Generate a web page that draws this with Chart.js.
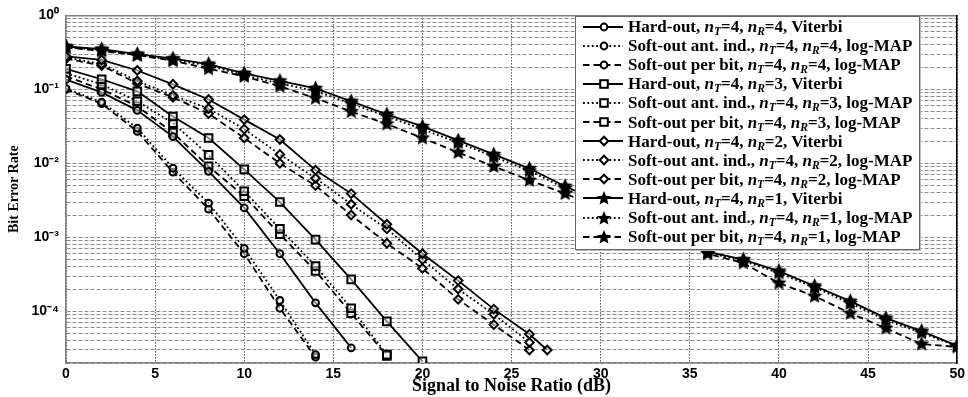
<!DOCTYPE html>
<html>
<head>
<meta charset="utf-8">
<script src="https://cdn.jsdelivr.net/npm/chart.js@4.4.1/dist/chart.umd.min.js"></script>
<style>
  body { margin: 0; background: #fff; }
  #wrap { position: relative; width: 968px; height: 397px; }
  #legend {
    position: absolute; left: 575px; top: 16px; width: 343px; height: 232px;
    background: #fff; border: 1px solid #666; box-shadow: 1px 1px 0 #bbb;
    font: bold 17px "Liberation Serif", serif; color: #000;
  }
  .row { position: absolute; left: 0; height: 19px; display: flex; align-items: center; white-space: nowrap; }
  .row svg { margin-left: 7px; margin-right: 5px; flex: none; }
  .row sub { font-size: 11.5px; vertical-align: -3px; line-height: 0; }
</style>
</head>
<body>
<div id="wrap">
  <canvas id="ber"></canvas>
  <div id="legend"></div>
</div>
<script>
// nR = 4 (circles)
const snr4Hard = [0, 2, 4, 6, 8, 10, 12, 14, 16];
const ber4Hard = [0.136, 0.091, 0.052, 0.023, 0.0078, 0.0025, 6.0e-4, 1.3e-4, 3.2e-5];
const snr4Soft = [0, 2, 4, 6, 8, 10, 12, 14];
const ber4Ant = [0.103, 0.067, 0.030, 0.0086, 0.0029, 7.1e-4, 1.4e-4, 2.6e-5];
const ber4Bit = [0.100, 0.064, 0.027, 0.0076, 0.0024, 6.0e-4, 1.1e-4, 2.4e-5];

// nR = 3 (squares)
const snr3Hard = [0, 2, 4, 6, 8, 10, 12, 14, 16, 18, 20];
const ber3Hard = [0.19, 0.137, 0.094, 0.043, 0.022, 0.0083, 0.0030, 9.3e-4, 2.7e-4, 7.3e-5, 2.1e-5];
const snr3Soft = [0, 2, 4, 6, 8, 10, 12, 14, 16, 18];
const ber3Ant = [0.165, 0.117, 0.069, 0.035, 0.013, 0.0042, 0.0013, 4.1e-4, 1.1e-4, 2.6e-5];
const ber3Bit = [0.15, 0.10, 0.059, 0.026, 0.0091, 0.0036, 0.0011, 3.5e-4, 9.4e-5, 2.5e-5];

// nR = 2 (diamonds)
const snr2Hard = [0, 2, 4, 6, 8, 10, 12, 14, 16, 18, 20, 22, 24, 26, 27];
const ber2Hard = [0.28, 0.25, 0.18, 0.117, 0.073, 0.039, 0.021, 0.0081, 0.0039, 0.0015, 6.0e-4, 2.6e-4, 1.07e-4, 4.9e-5, 3.0e-5];
const snr2Soft = [0, 2, 4, 6, 8, 10, 12, 14, 16, 18, 20, 22, 24, 26];
const ber2Ant = [0.27, 0.22, 0.13, 0.083, 0.055, 0.029, 0.0132, 0.0063, 0.0028, 0.0013, 5.0e-4, 2.0e-4, 9.1e-5, 3.8e-5];
const ber2Bit = [0.26, 0.21, 0.12, 0.078, 0.047, 0.022, 0.010, 0.0050, 0.0020, 8.3e-4, 3.8e-4, 1.45e-4, 6.6e-5, 3.0e-5];

// nR = 1 (stars)
const snr1 = [0, 2, 4, 6, 8, 10, 12, 14, 16, 18, 20, 22, 24, 26, 28, 30, 32, 34, 36, 38, 40, 42, 44, 46, 48, 50];
const ber1Hard = [0.38, 0.35, 0.30, 0.26, 0.22, 0.165, 0.13, 0.103, 0.069, 0.046, 0.0316, 0.0204, 0.0132, 0.0085, 0.0049,
                  0.0030, 0.0018, 0.00107, 6.4e-4, 5.0e-4, 3.5e-4, 2.2e-4, 1.37e-4, 8.1e-5, 5.4e-5, 3.4e-5];
const ber1Ant = [0.37, 0.34, 0.29, 0.25, 0.21, 0.155, 0.12, 0.095, 0.064, 0.043, 0.029, 0.019, 0.0123, 0.0079, 0.0046,
                 0.0028, 0.0017, 0.0010, 6.2e-4, 4.8e-4, 3.3e-4, 2.1e-4, 1.28e-4, 7.6e-5, 5.1e-5, 3.4e-5];
const ber1Bit = [0.37, 0.33, 0.29, 0.245, 0.19, 0.15, 0.11, 0.076, 0.050, 0.034, 0.022, 0.014, 0.0091, 0.0059, 0.0039,
                 0.00245, 0.00155, 9.8e-4, 6.0e-4, 4.5e-4, 2.4e-4, 1.6e-4, 9.4e-5, 5.9e-5, 3.6e-5, 3.3e-5];

const xTicks = [0, 5, 10, 15, 20, 25, 30, 35, 40, 45, 50];
const yTickLabels = ['10⁰', '10⁻¹', '10⁻²', '10⁻³', '10⁻⁴'];
const detectors = ['Hard-out', 'Soft-out ant. ind.', 'Soft-out per bit'];
const decoders = ['Viterbi', 'log-MAP', 'log-MAP'];
const nT = 4;
const nRs = [4, 3, 2, 1];

function pts(xs, ys) {
    return xs.map((x, i) => ({ x: x, y: ys[i] }));
}

function starImage(size) {
    const c = document.createElement('canvas');
    c.width = c.height = size;
    const g = c.getContext('2d');
    const r = size / 2;
    g.beginPath();
    for (let k = 0; k < 10; k++) {
        const a = -Math.PI / 2 + k * Math.PI / 5;
        const rr = k % 2 ? r * 0.45 : r - 0.5;
        g.lineTo(r + rr * Math.cos(a), r + rr * Math.sin(a));
    }
    g.closePath();
    g.fillStyle = '#000';
    g.fill();
    return c;
}

const star = starImage(17);
const dashes = [[], [1.8, 2.6], [6.5, 4]];
const markers = [
    { style: 'circle', radius: 3.4 },
    { style: 'rect', radius: 5.4 },
    { style: 'rectRot', radius: 4.3 },
    { style: star, radius: 8 }
];

const series = [
    [pts(snr4Hard, ber4Hard), pts(snr4Soft, ber4Ant), pts(snr4Soft, ber4Bit)],
    [pts(snr3Hard, ber3Hard), pts(snr3Soft, ber3Ant), pts(snr3Soft, ber3Bit)],
    [pts(snr2Hard, ber2Hard), pts(snr2Soft, ber2Ant), pts(snr2Soft, ber2Bit)],
    [pts(snr1, ber1Hard), pts(snr1, ber1Ant), pts(snr1, ber1Bit)]
];

const datasets = [];
series.forEach((group, g) => {
    group.forEach((data, d) => {
        datasets.push({
            label: detectors[d] + ', nT=' + nT + ', nR=' + nRs[g] + ', ' + decoders[d],
            data: data,
            borderColor: '#000',
            borderWidth: 1.8,
            borderDash: dashes[d],
            backgroundColor: '#fff',
            pointStyle: markers[g].style,
            pointRadius: markers[g].radius,
            pointBorderWidth: 2,
            pointBorderColor: '#000',
            pointBackgroundColor: g === 3 ? '#000' : 'rgba(255,255,255,0.5)',
            tension: 0,
            fill: false
        });
    });
});

// y grid: 1..9 x 10^e between 2e-5 and 1
const yGrid = [];
for (let e = -5; e <= 0; e++) {
    for (let k = 1; k <= 9; k++) {
        const v = parseFloat((k * Math.pow(10, e)).toPrecision(3));
        if (v >= 2e-5 && v <= 1) yGrid.push(v);
    }
}

new Chart(document.getElementById('ber'), {
    type: 'line',
    data: { datasets: datasets },
    options: {
        responsive: true,
        maintainAspectRatio: false,
        animation: false,
        layout: { autoPadding: false, padding: { left: 0, right: 1, top: 14, bottom: 0 } },
        plugins: { legend: { display: false }, tooltip: { enabled: false } },
        scales: {
            x: {
                type: 'linear', min: 0, max: 50,
                afterBuildTicks: s => { s.ticks = xTicks.map(v => ({ value: v })); },
                afterFit: s => { s.height = 34; },
                ticks: { color: '#000', padding: 3, font: { family: 'Liberation Sans', weight: 'bold', size: 14 } },
                grid: { color: '#000', lineWidth: 1, drawTicks: false },
                border: { color: '#808080', width: 1.5, dash: [1, 2] },
                title: {
                    display: true, text: 'Signal to Noise Ratio (dB)', color: '#000',
                    font: { family: 'Liberation Serif', weight: 'bold', size: 18 }, padding: { top: -2, bottom: 0 }
                }
            },
            y: {
                type: 'logarithmic', min: 2e-5, max: 1,
                afterBuildTicks: s => { s.ticks = yGrid.map(v => ({ value: v })); },
                afterFit: s => { s.width = 66; },
                ticks: {
                    color: '#000', padding: 7, autoSkip: false,
                    font: { family: 'Liberation Sans', weight: 'bold', size: 14 },
                    callback: v => {
                        const e = Math.log10(v);
                        return Math.abs(e - Math.round(e)) < 1e-6 ? yTickLabels[-Math.round(e)] : '';
                    }
                },
                grid: { color: '#8c8c8c', lineWidth: 1, drawTicks: false },
                border: { color: '#808080', width: 1.5, dash: [4, 2] },
                title: {
                    display: true, text: 'Bit Error Rate', color: '#000',
                    font: { family: 'Liberation Serif', weight: 'bold', size: 14 }, padding: { top: 6, bottom: 0 }
                }
            },
            x2: {
                type: 'linear', position: 'top', min: 0, max: 50,
                ticks: { display: false }, grid: { display: false, drawTicks: false },
                border: { color: '#808080', width: 1.5 },
                afterFit: s => { s.height = 0; }
            },
            y2: {
                type: 'linear', position: 'right', min: 0, max: 1,
                ticks: { display: false }, grid: { display: false, drawTicks: false },
                border: { color: '#000', width: 1.5 },
                afterFit: s => { s.width = 0; }
            }
        }
    }
});

// legend with italic subscripts
const legend = document.getElementById('legend');
const dashAttr = ['', 'stroke-dasharray="1.8 2.6"', 'stroke-dasharray="6.5 4"'];
function markerSvg(g) {
    if (g === 0) return '<circle cx="21" cy="7" r="3.4" fill="#fff" stroke="#000" stroke-width="2"/>';
    if (g === 1) return '<rect x="17.2" y="3.2" width="7.6" height="7.6" fill="#fff" stroke="#000" stroke-width="2"/>';
    if (g === 2) return '<polygon points="21,2.7 25.3,7 21,11.3 16.7,7" fill="#fff" stroke="#000" stroke-width="2"/>';
    let p = [];
    for (let k = 0; k < 10; k++) {
        const a = -Math.PI / 2 + k * Math.PI / 5;
        const rr = k % 2 ? 3.4 : 7.5;
        p.push((21 + rr * Math.cos(a)).toFixed(2) + ',' + (7.5 + rr * Math.sin(a)).toFixed(2));
    }
    return '<polygon points="' + p.join(' ') + '" fill="#000"/>';
}
let row = 0;
nRs.forEach((nr, g) => {
    detectors.forEach((det, d) => {
        const div = document.createElement('div');
        div.className = 'row';
        div.style.top = (0.5 + 19.1 * row) + 'px';
        div.innerHTML =
            '<svg width="40" height="15"><line x1="0" y1="7" x2="40" y2="7" stroke="#000" stroke-width="1.8" ' + dashAttr[d] + '/>' +
            markerSvg(g) + '</svg>' +
            '<span>' + det + ', <i>n</i><sub><i>T</i></sub>=' + nT + ', <i>n</i><sub><i>R</i></sub>=' + nr + ', ' + decoders[d] + '</span>';
        legend.appendChild(div);
        row++;
    });
});
</script>
</body>
</html>
